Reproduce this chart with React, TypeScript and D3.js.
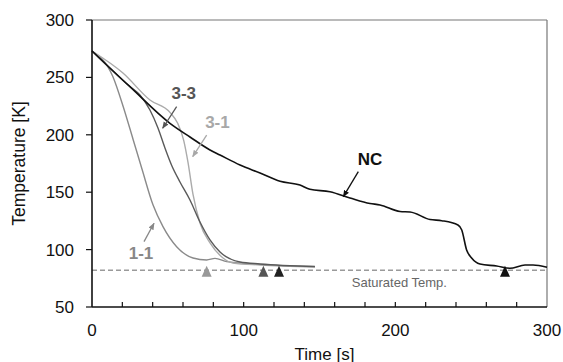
import React from "react";
import * as d3 from "d3";

// ---- data ----
const ncTime = [0, 25, 51.4, 64.6, 77.8, 84.4, 97.6, 110.8, 124, 137.1, 143.7, 156.9, 170.1, 183.3, 189.9, 203.1, 209.7, 222.9, 230.6, 241.3, 243.8, 247, 250.3, 255.8, 266.8, 275.6, 285.5, 290.8, 300];
const ncTemp = [273, 241.9, 210, 198.1, 186.8, 182.4, 173.7, 166.7, 159.5, 156.3, 152.5, 150.4, 145, 140.2, 138.9, 133.2, 132.8, 126.2, 125.2, 121.4, 117.1, 99.7, 92.7, 87.5, 85.7, 83.7, 86.6, 86.6, 84.6];

const c33Time = [0, 25, 31.6, 38.2, 43.5, 48.1, 52.7, 58, 64.6, 71.2, 77.8, 84.4, 97.6, 110.8, 147];
const c33Temp = [273, 242, 234.7, 221.6, 205.9, 188.5, 172.8, 158.9, 143.2, 124, 108.4, 97.9, 89.2, 87.5, 85.3];

const c31Time = [0, 20.4, 38.2, 51.4, 56.5, 60.5, 63.3, 66.6, 71.2, 77.8, 86.4, 93, 110.8, 147];
const c31Temp = [273, 253.8, 230.3, 219.5, 210, 195, 176, 148, 123.2, 105.8, 92.7, 88.3, 86.6, 85];

const c11Time = [0, 13.8, 20.6, 27.2, 33, 40.2, 46.8, 55.8, 66.6, 75.6, 81.1, 88.8, 97.6, 147];
const c11Temp = [273, 250.6, 224.5, 195.5, 170, 139, 120, 102.5, 92.7, 91, 92.4, 89.5, 88.3, 85];

const saturatedTemp = 82;
const markerTimes = [75.6, 113, 123.3, 272.3];
const markerColors = ["#999999", "#555555", "#222222", "#111111"];

const xTicksMajor = [0, 100, 200, 300];
const xTicksMinor = [20, 40, 60, 80, 100, 120, 140, 160, 180, 200, 220, 240, 260, 280];
const yTicks = [50, 100, 150, 200, 250, 300];

// labels: [labelT, labelTemp, arrowFromT, arrowFromTemp, arrowToT, arrowToTemp]
const labelNames = ["NC", "3-3", "3-1", "1-1"];
const labelPos = [
  [183.3, 173.7, 175.6, 167.9, 165.7, 146.1],
  [60.5, 231.2, 55.8, 224.5, 46.6, 205.7],
  [82.7, 206, 75.6, 199.8, 66.4, 181],
  [32.3, 91.8, 34.3, 106.9, 40.9, 122.9],
];
const labelColors = ["#111111", "#555555", "#a8a8a8", "#888888"];

const W = 563;
const H = 362;
const M = { left: 92, right: 16, top: 20, bottom: 55 };
const FONT = "'Liberation Sans', Arial, sans-serif";

export default function App() {
  const x = d3.scaleLinear().domain([0, 300]).range([M.left, W - M.right]);
  const y = d3.scaleLinear().domain([50, 300]).range([H - M.bottom, M.top]);
  const line = (ts: number[], vs: number[]) =>
    d3
      .line<number>()
      .x((_, i) => x(ts[i]))
      .y((v) => y(v))
      .curve(d3.curveMonotoneX)(vs) || "";

  const series = [
    { t: c11Time, v: c11Temp, color: "#8a8a8a", w: 1.4 },
    { t: c31Time, v: c31Temp, color: "#ababab", w: 1.4 },
    { t: c33Time, v: c33Temp, color: "#5a5a5a", w: 1.4 },
    { t: ncTime, v: ncTemp, color: "#111111", w: 1.6 },
  ];

  const x0 = x(0), x1 = x(300), yb = y(50), yt = y(300);
  const ySat = y(saturatedTemp);

  return (
    <svg
      width={W}
      height={H}
      style={{ position: "absolute", left: 0, top: 0, background: "#fff" }}
      fontFamily={FONT}
    >
      <defs>
        {labelColors.map((c, i) => (
          <marker
            key={i}
            id={`ah${i}`}
            viewBox="0 0 10 10"
            refX="9"
            refY="5"
            markerWidth="7"
            markerHeight="7"
            orient="auto"
            markerUnits="userSpaceOnUse"
          >
            <path d="M0,1 L10,5 L0,9 z" fill={c} />
          </marker>
        ))}
      </defs>
      {/* frame */}
      <line x1={x0} x2={x1} y1={yt} y2={yt} stroke="#777" strokeWidth={1.2} />
      <line x1={x1} x2={x1} y1={yt} y2={yb} stroke="#777" strokeWidth={1.2} />
      {/* saturated line */}
      <line
        x1={x0}
        x2={x1}
        y1={ySat}
        y2={ySat}
        stroke="#9a9a9a"
        strokeWidth={1.6}
        strokeDasharray="5,3"
      />
      <text x={x(234)} y={y(67.2)} fontSize={13} fill="#666" textAnchor="end">
        Saturated Temp.
      </text>
      {/* series */}
      {series.map((s, i) => (
        <path key={i} d={line(s.t, s.v)} fill="none" stroke={s.color} strokeWidth={s.w} />
      ))}
      {/* markers */}
      {markerTimes.map((t, i) => {
        const cx = x(t);
        return (
          <path
            key={i}
            d={`M${cx},${ySat - 4.5} L${cx + 5},${ySat + 6.5} L${cx - 5},${ySat + 6.5} Z`}
            fill={markerColors[i]}
          />
        );
      })}
      {/* axes */}
      <line x1={x0} x2={x0} y1={yt} y2={yb} stroke="#111" strokeWidth={1.6} />
      <line x1={x0} x2={x1} y1={yb} y2={yb} stroke="#111" strokeWidth={1.6} />
      {xTicksMinor.map((t) => (
        <line key={t} x1={x(t)} x2={x(t)} y1={yb} y2={yb - 5} stroke="#111" strokeWidth={1.2} />
      ))}
      {yTicks.map((v) => (
        <g key={v}>
          <line x1={x0 - 6} x2={x0} y1={y(v)} y2={y(v)} stroke="#111" strokeWidth={1.2} />
          <text x={x0 - 18} y={y(v) + 6} fontSize={17} textAnchor="end" fill="#111">
            {v}
          </text>
        </g>
      ))}
      {xTicksMajor.map((t) => (
        <text key={t} x={x(t)} y={yb + 29} fontSize={17} textAnchor="middle" fill="#111">
          {t}
        </text>
      ))}
      <text x={(x0 + x1) / 2 + 5} y={yb + 53} fontSize={17} textAnchor="middle" fill="#111">
        Time [s]
      </text>
      <text
        transform={`translate(25,${(yt + yb) / 2}) rotate(-90)`}
        fontSize={17.5}
        textAnchor="middle"
        fill="#111"
      >
        Temperature [K]
      </text>
      {/* labels */}
      {labelNames.map((name, i) => {
        const p = labelPos[i];
        return (
          <g key={name}>
            <text
              x={x(p[0])}
              y={y(p[1])}
              fontSize={17}
              fontWeight="bold"
              textAnchor="middle"
              fill={labelColors[i]}
            >
              {name}
            </text>
            <line
              x1={x(p[2])}
              y1={y(p[3])}
              x2={x(p[4])}
              y2={y(p[5])}
              stroke={labelColors[i]}
              strokeWidth={1.3}
              markerEnd={`url(#ah${i})`}
            />
          </g>
        );
      })}
    </svg>
  );
}
